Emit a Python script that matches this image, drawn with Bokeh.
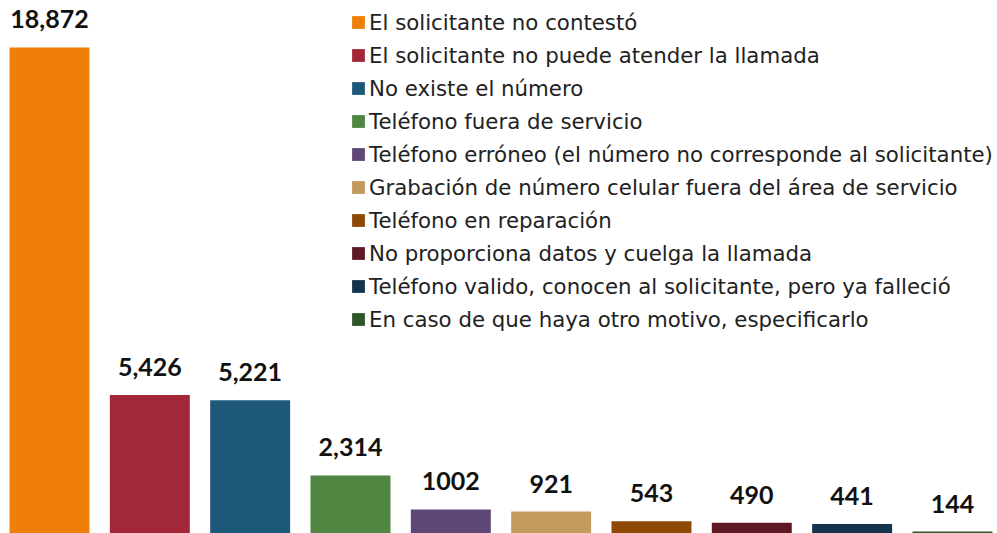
from bokeh.plotting import figure
from bokeh.models import ColumnDataSource, Range1d, Legend, LegendItem
from bokeh.core.properties import value
from bokeh.embed import file_html
from bokeh.resources import INLINE

categories = [
    "El solicitante no contestó",
    "El solicitante no puede atender la llamada",
    "No existe el número",
    "Teléfono fuera de servicio",
    "Teléfono erróneo (el número no corresponde al solicitante)",
    "Grabación de número celular fuera del área de servicio",
    "Teléfono en reparación",
    "No proporciona datos y cuelga la llamada",
    "Teléfono valido, conocen al solicitante, pero ya falleció",
    "En caso de que haya otro motivo, especificarlo",
]
values = [18872, 5426, 5221, 2314, 1002, 921, 543, 490, 441, 144]
value_labels = ["18,872", "5,426", "5,221", "2,314", "1002", "921", "543", "490", "441", "144"]
colors = ["#F07F09", "#A22738", "#1D587B", "#4F8642", "#5E4676",
          "#C39A5D", "#8E4A05", "#5E1A24", "#14344D", "#2F5528"]

src = ColumnDataSource(dict(
    x=list(range(len(values))),
    top=values,
    label=categories,
    vlabel=value_labels,
    color=colors,
))

p = figure(width=997, height=533, output_backend="svg", toolbar_location=None,
           x_range=Range1d(-0.4884, 9.449), y_range=Range1d(70, 20689),
           min_border=0)
p.axis.visible = False
p.grid.visible = False
p.outline_line_color = None

bars = p.vbar(x="x", top="top", bottom=0, width=0.797, fill_color="color",
              line_color=None, source=src)

p.text(x="x", y="top", text="vlabel", source=src, text_align="center",
       text_baseline="alphabetic", y_offset=-28, text_font=value("Lato"),
       text_font_style="bold", text_font_size="25px", text_color="#111111")

legend = Legend(items=[LegendItem(label=c, renderers=[bars], index=i)
                       for i, c in enumerate(categories)],
                location=(350, 201))
legend.label_text_font = "DejaVu Sans"
legend.label_text_font_size = "21.3px"
legend.label_text_color = "#222222"
legend.glyph_width = 16
legend.glyph_height = 16
legend.label_height = 26
legend.spacing = 7
legend.padding = 0
legend.margin = 0
legend.label_standoff = 3
legend.border_line_color = None
legend.background_fill_alpha = 0
p.add_layout(legend, "center")

open("out.html", "w").write(file_html(p, INLINE))
